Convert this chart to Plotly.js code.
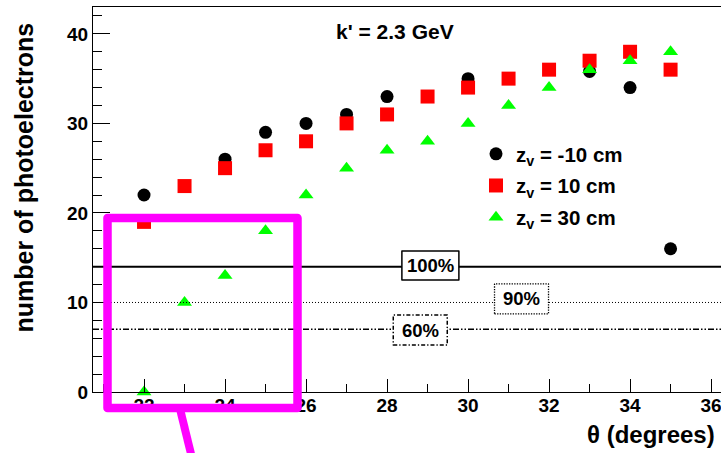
<!DOCTYPE html>
<html>
<head>
<meta charset="utf-8">
<script src="https://cdn.plot.ly/plotly-3.0.1.min.js"></script>
<style>
  html, body { margin: 0; padding: 0; background: #fff; }
  #chart { width: 721px; height: 453px; }
  .shapelayer path { stroke-linejoin: round; }
</style>
</head>
<body>
<div id="chart"></div>
<script>
// Photoelectron yield vs. polar angle, three vertex positions (k' = 2.3 GeV)
const thetaNeg10 = [22, 24, 25, 26, 27, 28, 30, 33, 34, 35];
const npeNeg10   = [22, 26, 29, 30, 31, 33, 35, 35.8, 34, 16];

const thetaPos10 = [22, 23, 24, 25, 26, 27, 28, 29, 30, 31, 32, 33, 34, 35];
const npePos10   = [19, 23, 25, 27, 28, 30, 31, 33, 34, 35, 36, 37, 38, 36];

const thetaPos30 = [22, 23, 24, 25, 26, 27, 28, 29, 30, 31, 32, 33, 34, 35];
const npePos30   = [0, 10, 13, 18, 22, 25, 27, 28, 30, 32, 34, 36, 37, 38];

// efficiency thresholds
const thrLabels = ['100%', '90%', '60%'];
const thrValues = [14, 10, 7];

const seriesNames = ['z<sub>v</sub> = -10 cm', 'z<sub>v</sub> = 10 cm', 'z<sub>v</sub> = 30 cm'];

// ---- frame geometry ----
const W = 721, H = 453;
const M = { l: 93, r: 0, t: 7, b: 61 };
const plotW = W - M.l - M.r, plotH = H - M.t - M.b;
const xRange = [20.74, 36.245];
const yRange = [0, 43];
const pxPerX = plotW / (xRange[1] - xRange[0]);
const pxPerY = plotH / (yRange[1] - yRange[0]);
const px2paperX = px => (px - M.l) / plotW;
const py2paperY = py => (M.t + plotH - py) / plotH;

const FONT = 'Liberation Sans, Arial, Helvetica, sans-serif';

const traces = [
  { x: thetaNeg10, y: npeNeg10, name: seriesNames[0], legendgroup: 'a',
    marker: { symbol: 'circle', size: 13, color: '#000000' } },
  { x: thetaPos10, y: npePos10, name: seriesNames[1], legendgroup: 'b',
    marker: { symbol: 'square', size: 14, color: '#ff0000' } },
  { x: thetaPos30, y: npePos30, name: seriesNames[2], legendgroup: 'c',
    marker: { symbol: 'triangle-up', size: 13, color: '#00ff00' } }
].map(t => Object.assign({ type: 'scatter', mode: 'markers', cliponaxis: false }, t));

// threshold lines and their labelled boxes
const lineStyles = [
  { color: '#000', width: 2, dash: 'solid' },
  { color: '#000', width: 1, dash: '1px,2px' },
  { color: '#000', width: 1.5, dash: '6px,2px,1.5px,2px,1.5px,2px' }
];
const boxStyles = [
  { color: '#000', width: 1.5, dash: 'solid' },
  { color: '#000', width: 1.3, dash: '1.3px,1.3px' },
  { color: '#000', width: 1.5, dash: '4px,2px,1.3px,2px' }
];
const labelCenters = [ [29.07, 14.13], [31.32, 10.39], [28.82, 6.92] ];
const boxPx = [ [57, 29], [54, 30], [54, 30] ];

const shapes = [];
thrValues.forEach((v, i) => {
  shapes.push({ type: 'line', xref: 'paper', yref: 'y', x0: 0, x1: 1, y0: v, y1: v,
                line: lineStyles[i], layer: 'above' });
});
labelCenters.forEach((c, i) => {
  const hw = boxPx[i][0] / 2 / pxPerX, hh = boxPx[i][1] / 2 / pxPerY;
  shapes.push({ type: 'rect', xref: 'x', yref: 'y',
                x0: c[0] - hw, x1: c[0] + hw, y0: c[1] - hh, y1: c[1] + hh,
                fillcolor: '#ffffff', line: boxStyles[i], layer: 'above' });
});

// highlight frame around the low-angle region, with its pointer
shapes.push({ type: 'rect', xref: 'paper', yref: 'paper',
              x0: px2paperX(107.5), x1: px2paperX(297.5),
              y0: py2paperY(408), y1: py2paperY(218),
              line: { color: '#ff00ff', width: 8.5 }, layer: 'above' });
shapes.push({ type: 'line', xref: 'paper', yref: 'paper',
              x0: px2paperX(180), y0: py2paperY(409),
              x1: px2paperX(193), y1: py2paperY(462),
              line: { color: '#ff00ff', width: 8 }, layer: 'above' });

const annotations = thrLabels.map((t, i) => ({
  text: t, x: labelCenters[i][0], y: labelCenters[i][1], xref: 'x', yref: 'y',
  showarrow: false, xanchor: 'center', yanchor: 'middle',
  font: { family: FONT, size: 18.5, color: '#000', weight: 'bold' }
}));
annotations.push({
  text: "k' = 2.3 GeV", xref: 'paper', yref: 'paper',
  x: px2paperX(395), y: py2paperY(31.7), showarrow: false,
  xanchor: 'center', yanchor: 'middle',
  font: { family: FONT, size: 21, color: '#000', weight: 'bold' }
});
annotations.push({
  text: 'θ (degrees)', xref: 'paper', yref: 'paper',
  x: px2paperX(717), y: py2paperY(434.7), showarrow: false,
  xanchor: 'right', yanchor: 'middle',
  font: { family: FONT, size: 24, color: '#000', weight: 'bold' }
});
annotations.push({
  text: 'number of photoelectrons', xref: 'paper', yref: 'paper',
  x: px2paperX(23), y: py2paperY(177.5), showarrow: false, textangle: -90,
  xanchor: 'center', yanchor: 'middle',
  font: { family: FONT, size: 25, color: '#000', weight: 'bold' }
});

const layout = {
  width: W, height: H,
  margin: M,
  paper_bgcolor: '#ffffff', plot_bgcolor: '#ffffff',
  font: { family: FONT, color: '#000', weight: 'bold' },
  showlegend: true,
  legend: {
    x: px2paperX(476), y: py2paperY(134), xanchor: 'left', yanchor: 'top',
    bgcolor: 'rgba(0,0,0,0)', borderwidth: 0,
    font: { family: FONT, size: 20.5, color: '#000', weight: 'bold' },
    traceorder: 'grouped', tracegroupgap: 2
  },
  xaxis: {
    range: xRange, tick0: 0, dtick: 2, ticks: 'inside', ticklen: 13, tickwidth: 1,
    tickcolor: '#000', showline: true, linecolor: '#000', linewidth: 1, mirror: true,
    showgrid: false, zeroline: false, ticklabeloverflow: 'allow', ticklabelstandoff: -4,
    tickfont: { family: FONT, size: 19, color: '#000', weight: 'bold' },
    minor: { dtick: 1, ticks: 'inside', ticklen: 8, tickwidth: 1, tickcolor: '#000', showgrid: false }
  },
  yaxis: {
    range: yRange, tick0: 0, dtick: 10, ticks: 'inside', ticklen: 17, tickwidth: 1,
    tickcolor: '#000', showline: true, linecolor: '#000', linewidth: 1,
    showgrid: false, zeroline: false, ticklabeloverflow: 'allow',
    tickfont: { family: FONT, size: 19, color: '#000', weight: 'bold' },
    minor: { dtick: 2, ticks: 'inside', ticklen: 9, tickwidth: 1, tickcolor: '#000', showgrid: false }
  },
  shapes: shapes,
  annotations: annotations
};

Plotly.newPlot('chart', traces, layout, { displayModeBar: false, staticPlot: true });
</script>
</body>
</html>
